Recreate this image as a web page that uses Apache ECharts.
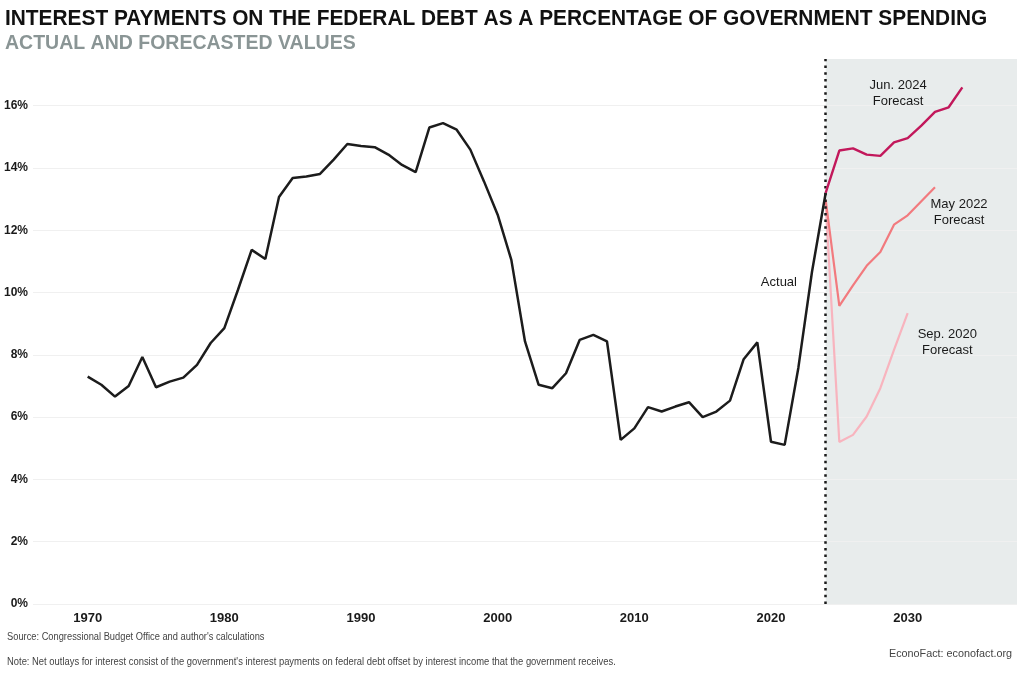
<!DOCTYPE html>
<html><head><meta charset="utf-8">
<script src="https://cdn.jsdelivr.net/npm/echarts@6/dist/echarts.min.js"></script>
<style>html,body{margin:0;padding:0;background:#fff}#c{width:1024px;height:677px}</style>
</head><body><div id="c"></div>
<script>
// ---- data ----
const actualYears = [1970,1971,1972,1973,1974,1975,1976,1977,1978,1979,1980,1981,1982,1983,1984,1985,1986,1987,1988,1989,1990,1991,1992,1993,1994,1995,1996,1997,1998,1999,2000,2001,2002,2003,2004,2005,2006,2007,2008,2009,2010,2011,2012,2013,2014,2015,2016,2017,2018,2019,2020,2021,2022,2023,2024];
const actualValues = [7.30,7.04,6.66,7.00,7.93,6.96,7.14,7.27,7.68,8.38,8.86,10.09,11.37,11.08,13.07,13.68,13.73,13.81,14.27,14.77,14.71,14.67,14.43,14.10,13.87,15.30,15.44,15.23,14.59,13.57,12.50,11.05,8.43,7.04,6.93,7.41,8.48,8.64,8.43,5.27,5.64,6.32,6.18,6.34,6.48,6.00,6.18,6.53,7.86,8.40,5.21,5.11,7.58,10.67,13.20];
const jun2024Years = [2024,2025,2026,2027,2028,2029,2030,2031,2032,2033,2034];
const jun2024Values = [13.20,14.56,14.63,14.43,14.39,14.82,14.96,15.36,15.80,15.95,16.59];
const may2022Years = [2024,2025,2026,2027,2028,2029,2030,2031,2032];
const may2022Values = [12.98,9.57,10.23,10.86,11.30,12.18,12.48,12.93,13.38];
const sep2020Years = [2024,2025,2026,2027,2028,2029,2030];
const sep2020Values = [12.88,5.20,5.43,6.02,6.93,8.16,9.34];
const xTickLabels = [1970,1980,1990,2000,2010,2020,2030];
const forecastStart = 2024;
const axisStart = 1966;
const axisEnd = 2038;

const pairs = (xs, ys) => xs.map((x, i) => [x, ys[i]]);
const sans = "'Liberation Sans',Arial,Helvetica,sans-serif";

const chart = echarts.init(document.getElementById('c'), null, {renderer: 'canvas'});
function annot(coord, text) {
  return {
    coord: coord, symbol: 'circle', symbolSize: 0,
    label: {show: true, position: 'inside', formatter: text, color: '#1a1a1a',
            fontFamily: sans, fontSize: 13, lineHeight: 16, align: 'center'}
  };
}
const gridColors = ['#f0f0f0','#f0f0f0','#f0f0f0','#f0f0f0','#f0f0f0','#f0f0f0','#f0f0f0','#f0f0f0','#f0f0f0','rgba(0,0,0,0)'];
chart.setOption({
  animation: false,
  backgroundColor: '#ffffff',
  grid: {left: 33, right: 7, top: 59, bottom: 73, containLabel: false},
  xAxis: {
    type: 'value', min: axisStart, max: axisEnd, interval: 2,
    axisLine: {show: false}, axisTick: {show: false}, splitLine: {show: false},
    axisLabel: {
      margin: 8, color: '#1a1a1a', fontWeight: 'bold', fontSize: 13, fontFamily: sans,
      formatter: v => xTickLabels.indexOf(v) >= 0 ? String(v) : ''
    }
  },
  yAxis: {
    type: 'value', min: 0, max: 17.5, interval: 2,
    axisLine: {show: false}, axisTick: {show: false},
    splitLine: {show: true, lineStyle: {color: gridColors, width: 1}},
    axisLabel: {
      showMaxLabel: false, margin: 5, color: '#1a1a1a', fontWeight: 'bold', fontSize: 12, fontFamily: sans,
      formatter: v => (v % 2 === 0 ? v + '%' : '')
    }
  },
  series: [
    {
      type: 'line', data: [], z: -1, silent: true,
      markArea: {silent: true, z: -1, itemStyle: {color: '#e8ecec'},
        data: [[{xAxis: forecastStart}, {xAxis: axisEnd}]]}
    },
    {
      name: 'Sep. 2020 Forecast', type: 'line', data: pairs(sep2020Years, sep2020Values),
      showSymbol: false, symbol: 'none', lineStyle: {color: '#f8b4be', width: 2.2}, z: 3,
      markPoint: {data: [annot([2032.9, 8.39], 'Sep. 2020\nForecast')]}
    },
    {
      name: 'May 2022 Forecast', type: 'line', data: pairs(may2022Years, may2022Values),
      showSymbol: false, symbol: 'none', lineStyle: {color: '#f27a7e', width: 2.2}, z: 4,
      markPoint: {data: [annot([2033.76, 12.56], 'May 2022\nForecast')]}
    },
    {
      name: 'Jun. 2024 Forecast', type: 'line', data: pairs(jun2024Years, jun2024Values),
      showSymbol: false, symbol: 'none', lineStyle: {color: '#c2185b', width: 2.4}, z: 5,
      markPoint: {data: [annot([2029.3, 16.40], 'Jun. 2024\nForecast')]}
    },
    {
      name: 'Actual', type: 'line', data: pairs(actualYears, actualValues),
      showSymbol: false, symbol: 'none', lineStyle: {color: '#1c1c1c', width: 2.5}, z: 6,
      markPoint: {data: [annot([2020.58, 10.31], 'Actual')]},
      markLine: {
        silent: true, symbol: 'none', label: {show: false},
        lineStyle: {color: '#1a1a1a', width: 2.5, type: [2.5, 4.2], cap: 'butt'},
        data: [{xAxis: forecastStart}]
      }
    }
  ],
  graphic: [
    {type: 'text', x: 5, y: 8, scaleX: 0.948, style: {text: 'INTEREST PAYMENTS ON THE FEDERAL DEBT AS A PERCENTAGE OF GOVERNMENT SPENDING',
      fill: '#111', font: 'bold 22px ' + sans, textVerticalAlign: 'top'}},
    {type: 'text', x: 5, y: 34, scaleX: 1.0, style: {text: 'ACTUAL AND FORECASTED VALUES',
      fill: '#8a9595', font: 'bold 19.5px ' + sans, textVerticalAlign: 'top'}},
    {type: 'text', x: 7, y: 632, scaleX: 0.93, style: {text: "Source: Congressional Budget Office and author's calculations",
      fill: '#444', font: '10px ' + sans, textVerticalAlign: 'top'}},
    {type: 'text', x: 7, y: 657, scaleX: 0.94, style: {text: "Note: Net outlays for interest consist of the government's interest payments on federal debt offset by interest income that the government receives.",
      fill: '#444', font: '10px ' + sans, textVerticalAlign: 'top'}},
    {type: 'text', right: 12, top: 649, style: {text: 'EconoFact: econofact.org',
      fill: '#444', font: '10.8px ' + sans}}
  ]
});
</script></body></html>
